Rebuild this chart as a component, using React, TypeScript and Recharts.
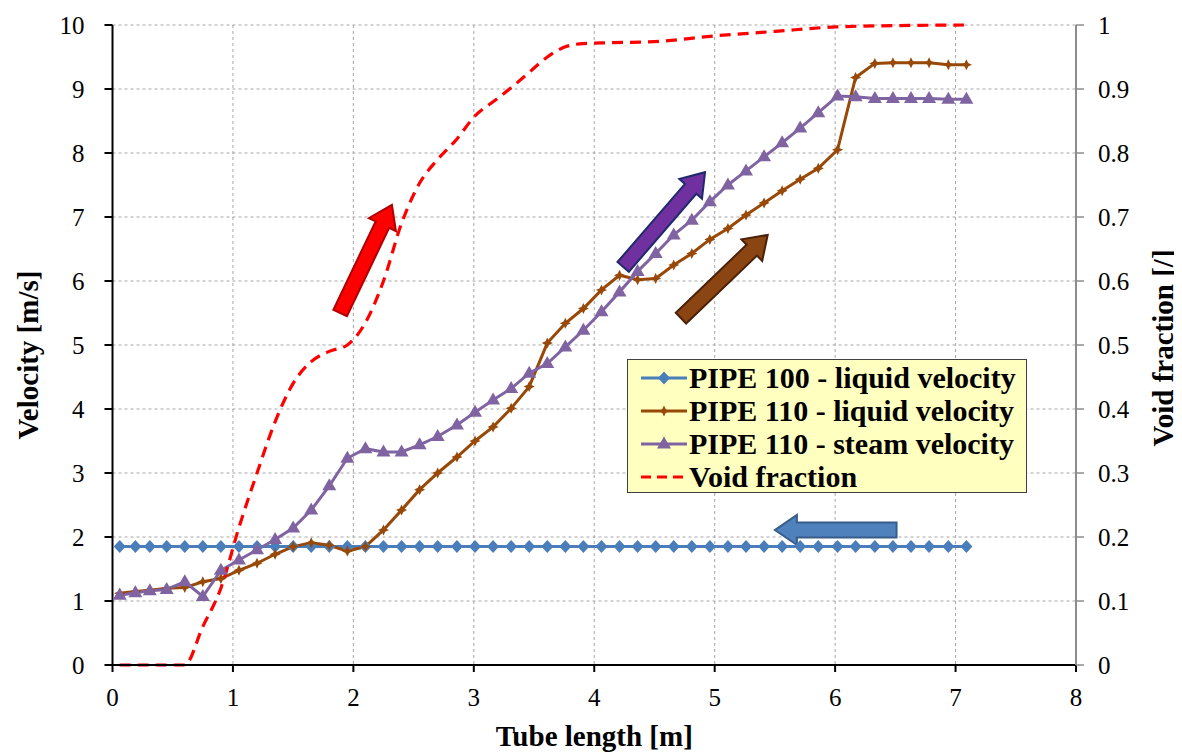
import React from "react";
import {
  LineChart,
  Line,
  XAxis,
  YAxis,
  CartesianGrid,
  ReferenceLine,
  Label,
} from "recharts";

// tube positions of the cell centres [m]
const tubeX = [
  0.06, 0.19, 0.31, 0.45, 0.6, 0.75, 0.9, 1.05, 1.2, 1.35, 1.5, 1.65, 1.8, 1.95,
  2.1, 2.25, 2.4, 2.55, 2.7, 2.86, 3.01, 3.16, 3.31, 3.46, 3.61, 3.76, 3.91,
  4.06, 4.21, 4.36, 4.51, 4.66, 4.81, 4.96, 5.11, 5.26, 5.41, 5.56, 5.71, 5.86,
  6.02, 6.17, 6.33, 6.48, 6.63, 6.78, 6.94, 7.09,
];

const pipe100Liquid = [
  1.85, 1.85, 1.85, 1.85, 1.85, 1.85, 1.85, 1.85, 1.85, 1.85, 1.85, 1.85, 1.85,
  1.85, 1.85, 1.85, 1.85, 1.85, 1.85, 1.85, 1.85, 1.85, 1.85, 1.85, 1.85, 1.85,
  1.85, 1.85, 1.85, 1.85, 1.85, 1.85, 1.85, 1.85, 1.85, 1.85, 1.85, 1.85, 1.85,
  1.85, 1.85, 1.85, 1.85, 1.85, 1.85, 1.85, 1.85, 1.85,
];

const pipe110Liquid = [
  1.12, 1.15, 1.17, 1.2, 1.21, 1.3, 1.35, 1.48, 1.59, 1.73, 1.85, 1.91, 1.87,
  1.78, 1.85, 2.11, 2.42, 2.74, 3.0, 3.25, 3.5, 3.72, 4.01, 4.35, 5.03, 5.34,
  5.57, 5.86, 6.09, 6.02, 6.04, 6.25, 6.43, 6.65, 6.82, 7.03, 7.22, 7.41, 7.59,
  7.76, 8.05, 9.18, 9.4, 9.41, 9.41, 9.41, 9.38, 9.38,
];

const pipe110Steam = [
  1.09, 1.13, 1.16, 1.18, 1.3, 1.07, 1.48, 1.64, 1.8, 1.96, 2.14, 2.42, 2.8,
  3.23, 3.38, 3.33, 3.33, 3.44, 3.57, 3.75, 3.95, 4.14, 4.32, 4.56, 4.71, 4.97,
  5.23, 5.52, 5.83, 6.15, 6.43, 6.72, 6.95, 7.24, 7.5, 7.72, 7.94, 8.16, 8.39,
  8.63, 8.89, 8.88, 8.85, 8.85, 8.85, 8.85, 8.84, 8.84,
];

const voidX = [
  0.06, 0.6, 0.75, 0.9, 1.05, 1.2, 1.35, 1.5, 1.65, 1.8, 1.95, 2.1, 2.25, 2.4,
  2.55, 2.7, 2.86, 3.01, 3.16, 3.31, 3.46, 3.61, 3.76, 3.91, 4.06, 4.5, 5.0,
  5.5, 6.0, 6.5, 7.07,
];

const voidFraction = [
  0, 0, 0.06, 0.12, 0.215, 0.3, 0.38, 0.44, 0.474, 0.49, 0.5, 0.535, 0.6, 0.69,
  0.753, 0.79, 0.822, 0.858, 0.88, 0.902, 0.926, 0.95, 0.966, 0.971, 0.972,
  0.974, 0.983, 0.99, 0.997, 0.999, 1.0,
];

const xTicks = [0, 1, 2, 3, 4, 5, 6, 7, 8];
const velocityTicks = [0, 1, 2, 3, 4, 5, 6, 7, 8, 9, 10];
const voidTicks = [0, 0.1, 0.2, 0.3, 0.4, 0.5, 0.6, 0.7, 0.8, 0.9, 1];

// trend arrows drawn on the plot, in data coordinates (velocity axis)
const arrows = [
  { from: [1.89, 5.5], to: [2.32, 7.19], fill: "#ff0000", stroke: "#b00000" },
  { from: [4.24, 6.22], to: [4.92, 7.7], fill: "#7030a0", stroke: "#1f2a6b" },
  { from: [4.72, 5.42], to: [5.44, 6.72], fill: "#8b4513", stroke: "#4a2008" },
  { from: [6.51, 2.11], to: [5.5, 2.11], fill: "#4f81bd", stroke: "#385d8a" },
];

const BLUE = "#4a7ebb";
const BROWN = "#984807";
const PURPLE = "#8064a2";
const RED = "#ff0000";
const FONT = "Liberation Serif, serif";

const velocityData = tubeX.map((x, i) => ({
  x,
  p100: pipe100Liquid[i],
  p110l: pipe110Liquid[i],
  p110s: pipe110Steam[i],
}));

const voidData = voidX.map((x, i) => ({ x, v: voidFraction[i] }));

function diamond(cx: number, cy: number) {
  return `${cx},${cy - 6.5} ${cx + 6},${cy} ${cx},${cy + 6.5} ${cx - 6},${cy}`;
}

function star(cx: number, cy: number) {
  const o = 5.5;
  const n = 1.8;
  return `${cx},${cy - o} ${cx + n},${cy - n} ${cx + o},${cy} ${cx + n},${cy + n} ${cx},${cy + o} ${cx - n},${cy + n} ${cx - o},${cy} ${cx - n},${cy - n}`;
}

function triangle(cx: number, cy: number) {
  return `${cx},${cy - 7.5} ${cx + 7},${cy + 4.5} ${cx - 7},${cy + 4.5}`;
}

const DiamondDot = (p: any) => (
  <polygon key={`d${p.index}`} points={diamond(p.cx, p.cy)} fill={BLUE} />
);
const StarDot = (p: any) => (
  <polygon key={`s${p.index}`} points={star(p.cx, p.cy)} fill={BROWN} />
);
const TriangleDot = (p: any) => (
  <polygon key={`t${p.index}`} points={triangle(p.cx, p.cy)} fill={PURPLE} />
);

const ArrowShape = (fill: string, stroke: string) => (p: any) => {
  const { x1, y1, x2, y2 } = p;
  if (x1 == null || y1 == null) return <g />;
  const dx = x2 - x1;
  const dy = y2 - y1;
  const len = Math.sqrt(dx * dx + dy * dy);
  const ux = dx / len;
  const uy = dy / len;
  const nx = -uy;
  const ny = ux;
  const w = 7.5;
  const hw = 15;
  const hl = 22;
  const bx = x2 - ux * hl;
  const by = y2 - uy * hl;
  const pts = [
    [x1 + nx * w, y1 + ny * w],
    [bx + nx * w, by + ny * w],
    [bx + nx * hw, by + ny * hw],
    [x2, y2],
    [bx - nx * hw, by - ny * hw],
    [bx - nx * w, by - ny * w],
    [x1 - nx * w, y1 - ny * w],
  ]
    .map((q) => q.join(","))
    .join(" ");
  return <polygon points={pts} fill={fill} stroke={stroke} strokeWidth={2} />;
};

const legendRows = [
  { name: "PIPE 100 - liquid velocity", color: BLUE, marker: diamond },
  { name: "PIPE 110 - liquid velocity", color: BROWN, marker: star },
  { name: "PIPE 110 - steam velocity", color: PURPLE, marker: triangle },
  { name: "Void fraction", color: RED, marker: null },
];

const LegendBox = () => (
  <div
    style={{
      position: "absolute",
      left: 619,
      top: 351,
      width: 400,
      height: 134,
      background: "#ffffbf",
      border: "1.5px solid #404040",
      boxSizing: "border-box",
      paddingTop: 1,
    }}
  >
    {legendRows.map((r) => (
      <div
        key={r.name}
        style={{ display: "flex", alignItems: "center", height: 33 }}
      >
        <svg width={48} height={20} style={{ marginLeft: 12, flexShrink: 0 }}>
          {r.marker ? (
            <>
              <line x1={1} y1={10} x2={47} y2={10} stroke={r.color} strokeWidth={3} />
              <polygon points={r.marker(24, 10)} fill={r.color} />
            </>
          ) : (
            <line
              x1={1}
              y1={10}
              x2={47}
              y2={10}
              stroke={r.color}
              strokeWidth={3}
              strokeDasharray="10 6"
            />
          )}
        </svg>
        <span
          style={{
            fontFamily: FONT,
            fontWeight: "bold",
            fontSize: 30,
            color: "#000",
            marginLeft: 1,
            lineHeight: 1,
            whiteSpace: "nowrap",
          }}
        >
          {r.name}
        </span>
      </div>
    ))}
  </div>
);

const VerticalTitle = (dx: number, dy: number) => (p: any) => {
  const vb = p.viewBox || {};
  const cx = vb.x + dx;
  const cy = vb.y + vb.height / 2 + dy;
  return (
    <text
      x={cx}
      y={cy}
      transform={`rotate(-90 ${cx} ${cy})`}
      textAnchor="middle"
      dominantBaseline="central"
      fontFamily={FONT}
      fontWeight="bold"
      fontSize={29}
      fill="#000"
    >
      {p.value}
    </text>
  );
};

const BottomTitle = (p: any) => {
  const vb = p.viewBox || {};
  const cx = vb.x + vb.width / 2;
  return (
    <text
      x={cx}
      y={vb.y + 81}
      textAnchor="middle"
      fontFamily={FONT}
      fontWeight="bold"
      fontSize={29}
      fill="#000"
    >
      {p.value}
    </text>
  );
};

const tickStyle = { fontSize: 25, fontFamily: FONT, fill: "#000" };

export default function App() {
  return (
    <div style={{ position: "relative", width: 1174, height: 745, background: "#fff" }}>
      <LineChart
        width={1174}
        height={745}
        margin={{ top: 17, right: 0, bottom: 0, left: 0 }}
      >
        <CartesianGrid
          yAxisId="left"
          stroke="#a6a6a6"
          strokeDasharray="3 3"
          strokeWidth={1}
        />
        <XAxis
          type="number"
          dataKey="x"
          domain={[0, 8]}
          ticks={xTicks}
          interval={0}
          height={88}
          tick={tickStyle}
          tickSize={7}
          tickMargin={16}
          axisLine={{ stroke: "#000", strokeWidth: 2 }}
          tickLine={{ stroke: "#000", strokeWidth: 2 }}
        >
          <Label value="Tube length [m]" content={BottomTitle} />
        </XAxis>
        <YAxis
          yAxisId="left"
          domain={[0, 10]}
          ticks={velocityTicks}
          interval={0}
          width={104.5}
          tick={tickStyle}
          tickSize={8}
          tickMargin={20}
          axisLine={{ stroke: "#000", strokeWidth: 2 }}
          tickLine={{ stroke: "#000", strokeWidth: 2 }}
        >
          <Label value="Velocity [m/s]" content={VerticalTitle(20, 10)} />
        </YAxis>
        <YAxis
          yAxisId="right"
          orientation="right"
          domain={[0, 1]}
          ticks={voidTicks}
          interval={0}
          width={106}
          tick={tickStyle}
          tickSize={8}
          tickMargin={14}
          tickFormatter={(v: number) => String(Number(v.toFixed(1)))}
          axisLine={{ stroke: "#8c8c8c", strokeWidth: 2 }}
          tickLine={{ stroke: "#8c8c8c", strokeWidth: 1.5 }}
        >
          <Label value="Void fraction [/]" content={VerticalTitle(87, 3)} />
        </YAxis>
        <Line
          yAxisId="left"
          data={velocityData}
          dataKey="p100"
          name="PIPE 100 - liquid velocity"
          stroke={BLUE}
          strokeWidth={3}
          dot={DiamondDot}
          activeDot={false}
          isAnimationActive={false}
        />
        <Line
          yAxisId="left"
          data={velocityData}
          dataKey="p110l"
          name="PIPE 110 - liquid velocity"
          stroke={BROWN}
          strokeWidth={3}
          dot={StarDot}
          activeDot={false}
          isAnimationActive={false}
        />
        <Line
          yAxisId="left"
          data={velocityData}
          dataKey="p110s"
          name="PIPE 110 - steam velocity"
          stroke={PURPLE}
          strokeWidth={3}
          dot={TriangleDot}
          activeDot={false}
          isAnimationActive={false}
        />
        <Line
          yAxisId="right"
          data={voidData}
          dataKey="v"
          name="Void fraction"
          type="monotone"
          stroke={RED}
          strokeWidth={3.2}
          strokeDasharray="11 7"
          dot={false}
          activeDot={false}
          isAnimationActive={false}
        />
        {arrows.map((a, i) => (
          <ReferenceLine
            key={i}
            yAxisId="left"
            segment={[
              { x: a.from[0], y: a.from[1] },
              { x: a.to[0], y: a.to[1] },
            ]}
            shape={ArrowShape(a.fill, a.stroke)}
            ifOverflow="visible"
          />
        ))}
      </LineChart>
      <LegendBox />
    </div>
  );
}
